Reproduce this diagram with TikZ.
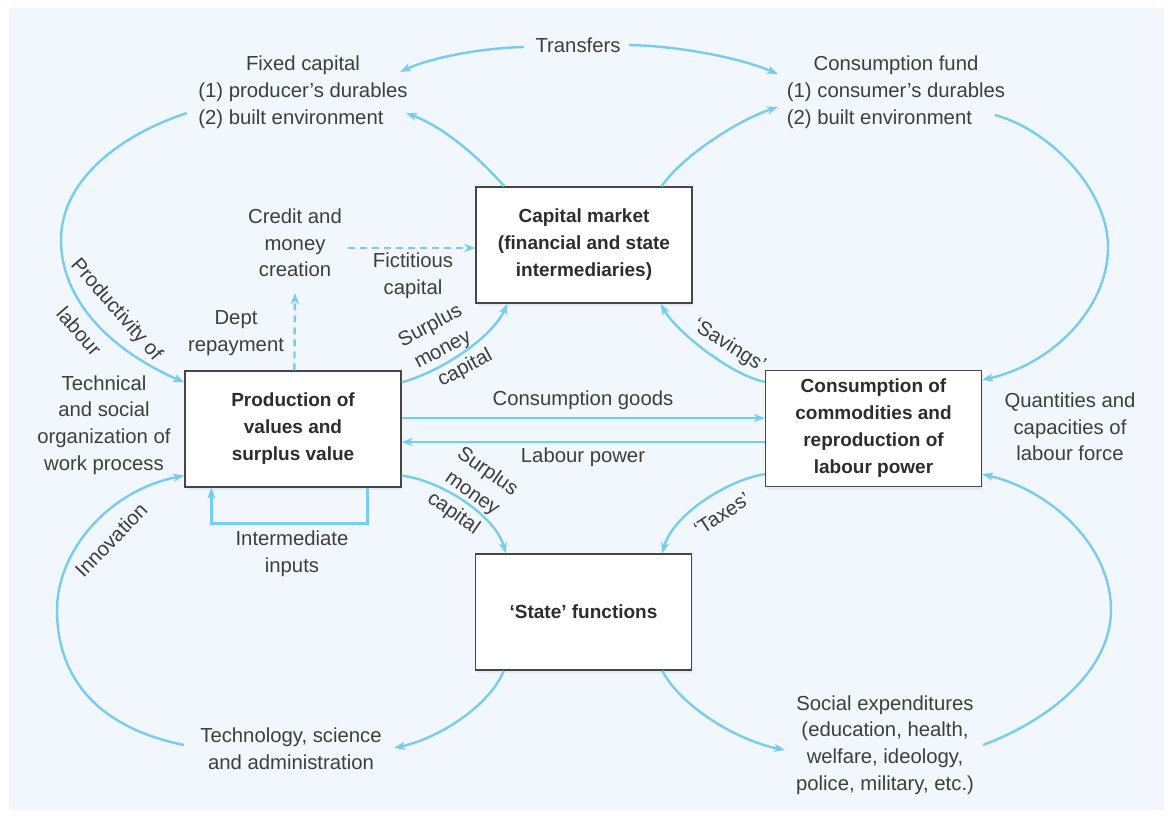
\documentclass[tikz,border=0pt]{standalone}
\usepackage{fontspec}
\setmainfont{Liberation Sans}[Ligatures=TeX]
\usetikzlibrary{arrows.meta,calc,shadows}
\definecolor{flow}{RGB}{120,204,238}
\definecolor{bgc}{RGB}{241,247,252}
\definecolor{txt}{RGB}{62,62,62}
\definecolor{boxline}{RGB}{70,70,70}
\definecolor{boxtxt}{RGB}{45,45,45}
\begin{document}
\begin{tikzpicture}[x=1pt,y=-1pt,
  every node/.style={text=txt, font=\fontsize{20.3}{26.7}\selectfont, inner sep=0pt},
  lbl/.style={align=center},
  procbox/.style={draw=boxline, line width=1.3pt, fill=white, minimum width=216pt, minimum height=116pt,
    align=center, font=\bfseries\fontsize{19}{27}\selectfont, text=boxtxt,
    drop shadow={opacity=0.10, shadow xshift=1pt, shadow yshift=-3pt}},
  flowline/.style={draw=flow, line width=2.4pt, -{Stealth[length=11pt,width=8pt,inset=3pt]}},
  dashflow/.style={flowline, dash pattern=on 7pt off 5pt},
]
\useasboundingbox (0,0) rectangle (1171,817);
\fill[white] (0,0) rectangle (1171,817);
\fill[bgc] (9,8) rectangle (1164,810);

% boxes
\node[procbox] (prod) at (293,429) {Production of\\values and\\surplus value};
\node[procbox] (cons) at (873.5,428.5) {Consumption of\\commodities and\\reproduction of\\labour power};
\node[procbox] (capm) at (584,245) {Capital market\\(financial and state\\intermediaries)};
\node[procbox] (state) at (583.5,612) {‘State’ functions};

% text nodes
\node (transfers) at (578,45) {Transfers};
\node (fixed) at (303,92) {\begin{tabular}{@{}l@{}}\multicolumn{1}{@{}c@{}}{Fixed capital}\\(1) producer’s durables\\(2) built environment\end{tabular}};
\node (consfund) at (896,92) {\begin{tabular}{@{}l@{}}\multicolumn{1}{@{}c@{}}{Consumption fund}\\(1) consumer’s durables\\(2) built environment\end{tabular}};
\node[lbl] (credit) at (295,243) {Credit and\\money\\creation};
\node[lbl] (fict) at (413,276) {Fictitious\\capital};
\node[lbl] (dept) at (236,333) {Dept\\repayment};
\node[lbl] (techsoc) at (104,425) {Technical\\and social\\organization of\\work process};
\node[lbl] (quant) at (1070,427) {Quantities and\\capacities of\\labour force};
\node[lbl] (interm) at (292,553.5) {Intermediate\\inputs};
\node[lbl] (techno) at (291,748.5) {Technology, science\\and administration};
\node[lbl] (social) at (885,745) {Social expenditures\\(education, health,\\welfare, ideology,\\police, military, etc.)};
\node (cgoods) at (583,400) {Consumption goods};
\node (lpower) at (583,457) {Labour power};

% rotated labels
\node[lbl, rotate=-49] (prodlab) at (101,323) {Productivity of\\[17pt]labour\hspace*{16pt}};
\node[lbl, rotate=28] (smu) at (443,350) {Surplus\\money\\\hspace*{22pt}capital};
\node[lbl, rotate=-35] (sml) at (472,494) {Surplus\\money\\capital\hspace*{8pt}};
\node[rotate=-32] (sav) at (729,346) {‘Savings’};
\node[rotate=33] (tax) at (722,514) {‘Taxes’};
\node[rotate=46] (innov) at (111,540) {Innovation};

% free ends
\coordinate (fcA) at (187,113);
\coordinate (fcB) at (406,113);
\coordinate (cfA) at (778,107);
\coordinate (cfB) at (995,115);
\coordinate (trL) at (524,47);
\coordinate (trR) at (629,45);
\coordinate (fcT) at (400,72);
\coordinate (cfT) at (778,74);
\coordinate (crR) at (348,248);
\coordinate (crB) at (295,293);
\coordinate (teL) at (184,745);
\coordinate (teR) at (394,748);
\coordinate (soL) at (785,750);
\coordinate (soR) at (983,745);

% connectors
\draw[flowline] (fcA) .. controls (120,135) and (61,180) .. (61,240) .. controls (61,300) and (110,350) .. ($(prod.north west)+(0,12)$);
\draw[flowline] ($(capm.north west)+(29,0)$) .. controls (480,159) and (446,128) .. (fcB);
\draw[flowline] ($(capm.north east)+(-31,0)$) .. controls (681,157) and (738,120) .. (cfA);
\draw[flowline] (trL) .. controls (480,48) and (430,58) .. (fcT);
\draw[flowline] (trR) .. controls (680,46) and (740,58) .. (cfT);
\draw[flowline] (cfB) .. controls (1050,130) and (1108,190) .. (1108,247) .. controls (1108,310) and (1050,365) .. ($(cons.north east)+(0,10)$);
\draw[flowline] ($(cons.north west)+(0,12)$) .. controls (730,375) and (675,330) .. ($(capm.south east)+(-32,0)$);
\draw[flowline] ($(prod.north east)+(0,12)$) .. controls (440,372) and (492,338) .. ($(capm.south west)+(32,0)$);
\draw[flowline] ($(prod.east)+(0,-11)$) -- ($(cons.west)+(0,-10.5)$);
\draw[flowline] ($(cons.west)+(0,13.5)$) -- ($(prod.east)+(0,13)$);
\draw[flowline] ($(prod.south east)+(0,-12)$) .. controls (440,480) and (495,515) .. ($(state.north west)+(31,0)$);
\draw[flowline] ($(cons.south west)+(0,-13)$) .. controls (727,480) and (673,515) .. ($(state.north east)+(-30,0)$);
\draw[flowline] ($(prod.south west)+(183,0)$) -- ++(0,36) -| ($(prod.south west)+(27,0)$);
\draw[flowline] (teL) .. controls (100,728) and (57,680) .. (57,610) .. controls (57,550) and (110,490) .. ($(prod.south west)+(0,-12)$);
\draw[flowline] ($(state.south west)+(29,0)$) .. controls (490,705) and (440,738) .. (teR);
\draw[flowline] ($(state.south east)+(-30,0)$) .. controls (680,705) and (735,740) .. (soL);
\draw[flowline] (soR) .. controls (1050,720) and (1111,670) .. (1111,610) .. controls (1111,545) and (1050,490) .. ($(cons.south east)+(0,-13)$);
\draw[dashflow] (crR) -- (capm.west |- crR);
\draw[dashflow] ($(prod.north west)+(110,0)$) -- (crB);
\end{tikzpicture}
\end{document}
